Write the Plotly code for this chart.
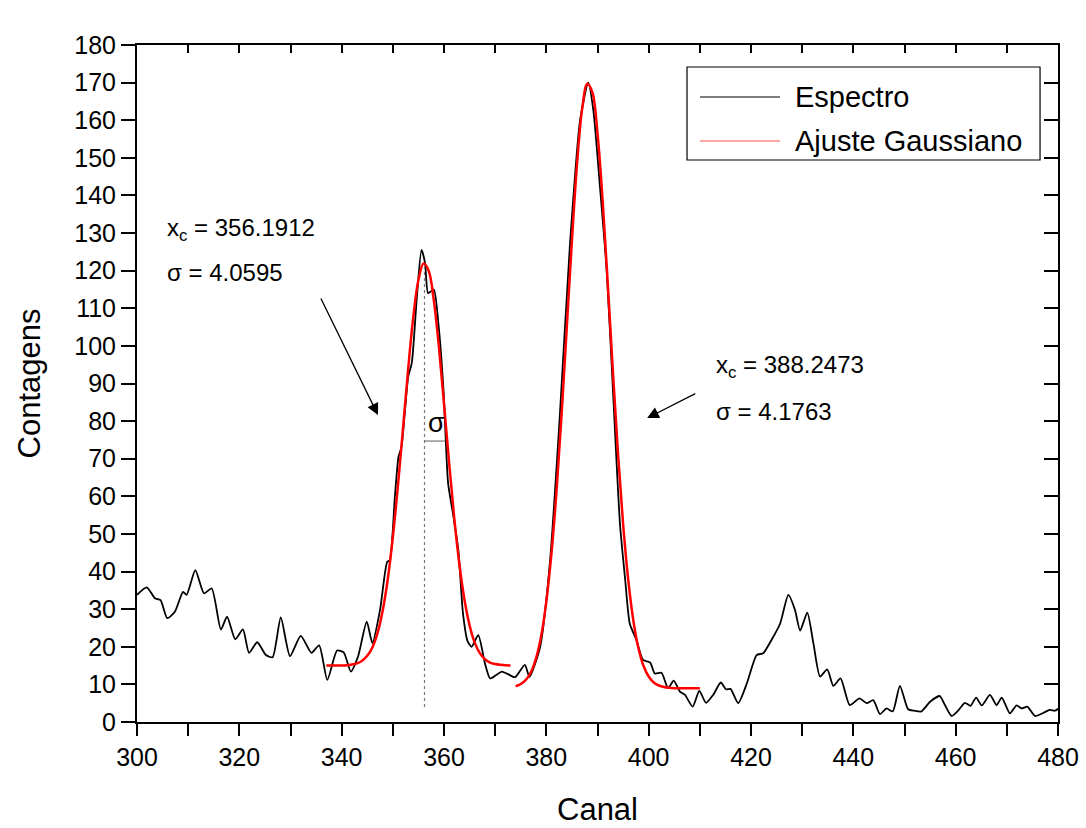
import plotly.graph_objects as go

# ---- Spectrum (black) ----
spec_x = [300.0, 301.9, 303.5, 304.6, 305.9, 307.4, 309.0, 309.7, 311.4, 313.1, 314.6, 316.4,
          317.6, 319.2, 320.7, 321.9, 323.5, 325.2, 326.5, 328.1, 329.9, 332.0, 334.1, 335.6,
          337.2, 339.1, 340.4, 341.8, 343.2, 344.9, 346.0, 347.5, 348.9, 349.4, 350.4, 351.1,
          351.7, 353.0, 353.7, 354.7, 355.6, 356.3, 356.9, 358.0, 358.9, 359.9, 360.8, 361.8,
          362.8, 363.7, 364.6, 365.4, 366.7, 368.0, 369.0, 370.2, 371.3, 372.4, 373.9, 375.8,
          376.7, 378.8, 380.7, 382.6, 384.6, 386.6, 388.2, 389.2, 390.5, 391.8, 393.1, 394.4,
          395.4, 396.3, 397.6, 398.9, 400.3, 401.2, 402.5, 403.8, 404.9, 406.1, 407.1, 408.6,
          409.9, 411.2, 412.6, 414.1, 415.1, 416.0, 417.5, 419.2, 421.1, 422.4, 424.0, 425.7,
          427.3, 428.6, 429.6, 431.0, 432.2, 433.5, 434.9, 436.1, 437.5, 439.3, 441.2, 442.6,
          443.9, 445.2, 446.5, 447.7, 449.1, 450.7, 451.9, 453.3, 455.0, 456.9, 457.9, 459.2,
          460.6, 461.8, 462.9, 464.0, 465.1, 466.7, 468.0, 469.0, 470.6, 471.9, 472.9, 474.0,
          475.5, 477.1, 478.4, 479.4, 480.0]
spec_y = [33.8, 35.8, 32.9, 32.4, 27.6, 29.3, 34.6, 33.8, 40.4, 34.2, 35.5, 24.6,
          28.0, 22.0, 24.6, 18.4, 21.2, 17.8, 17.2, 27.8, 17.5, 22.9, 18.4, 20.4,
          11.2, 19.0, 18.5, 13.4, 17.4, 26.7, 21.0, 29.8, 42.6, 43.0, 59.9, 70.5,
          73.2, 91.8, 95.4, 113.0, 125.5, 122.0, 114.0, 115.0, 106.0, 88.3, 63.5, 55.0,
          45.7, 29.0, 21.5, 20.0, 23.1, 15.6, 11.6, 12.5, 13.4, 12.8, 11.9, 15.2,
          12.0, 20.0, 42.4, 80.6, 126.6, 160.0, 170.0, 162.5, 142.0, 120.0, 86.0, 52.5,
          38.0, 26.2, 21.8, 16.5, 15.8, 12.9, 13.1, 9.0, 11.0, 8.1, 7.2, 4.1,
          8.3, 5.1, 7.2, 10.5, 8.7, 8.8, 5.0, 10.3, 17.8, 18.3, 21.8, 26.2,
          33.8, 29.8, 24.3, 29.1, 20.9, 12.1, 14.0, 9.6, 11.6, 4.5, 6.3, 5.0,
          5.8, 2.1, 3.6, 2.8, 9.6, 3.4, 3.0, 2.8, 5.4, 6.9, 4.5, 1.6,
          3.2, 5.1, 4.3, 6.5, 4.4, 7.2, 4.5, 6.5, 2.3, 4.4, 3.6, 4.1,
          1.6, 2.4, 3.2, 3.0, 3.5]

# ---- Gaussian fit curves (red) ----
fit1_x = list(range(337, 374))
fit1_y = [15.0, 15.0, 15.0, 15.0, 15.1, 15.3, 15.6, 16.3, 17.6, 19.8, 23.6, 29.5,
          37.9, 49.1, 62.9, 78.3, 93.9, 107.7, 117.5, 121.9, 120.0, 112.2, 99.8, 84.6,
          68.9, 54.3, 42.0, 32.5, 25.7, 21.1, 18.3, 16.7, 15.8, 15.4, 15.2, 15.1, 15.0]
fit2_x = list(range(374, 411))
fit2_y = [9.5, 10.1, 11.2, 13.3, 17.0, 22.9, 32.0, 44.8, 61.6, 82.2, 105.0, 128.0,
          148.3, 163.0, 169.7, 167.4, 156.5, 138.7, 116.7, 93.4, 71.5, 52.7, 37.9, 27.0,
          19.6, 14.9, 12.1, 10.5, 9.7, 9.3, 9.1, 9.0, 9.0, 9.0, 9.0, 9.0, 9.0]

# fit parameters (labels)
xc1, sigma1 = 356.1912, 4.0595
xc2, sigma2 = 388.2473, 4.1763
sigma_mark_y = 74.7
dotted_y = [4, 122]

legend_names = ["Espectro", "Ajuste Gaussiano"]
legend_colors = ["black", "#ff5050"]

FONT = "Arial, Liberation Sans, sans-serif"

fig = go.Figure()
fig.add_trace(go.Scatter(x=spec_x, y=spec_y, mode="lines", name="Espectro",
                         line=dict(color="black", width=1.8, shape="spline", smoothing=0.6),
                         showlegend=False))
fig.add_trace(go.Scatter(x=fit1_x, y=fit1_y, mode="lines", name="Ajuste Gaussiano",
                         line=dict(color="#ff0000", width=2.5, shape="spline"),
                         showlegend=False))
fig.add_trace(go.Scatter(x=fit2_x, y=fit2_y, mode="lines", name="Ajuste Gaussiano",
                         line=dict(color="#ff0000", width=2.5, shape="spline"),
                         showlegend=False))
# dotted centre line and sigma marker
fig.add_trace(go.Scatter(x=[xc1, xc1], y=dotted_y, mode="lines",
                         line=dict(color="#777777", width=1.2, dash="dot"), showlegend=False))
fig.add_trace(go.Scatter(x=[xc1, xc1 + sigma1], y=[sigma_mark_y, sigma_mark_y], mode="lines",
                         line=dict(color="#777777", width=1.2), showlegend=False))

# invisible trace for mirrored axes
fig.add_trace(go.Scatter(x=[300, 480], y=[0, 180], mode="markers", marker=dict(opacity=0),
                         xaxis="x2", yaxis="y2", showlegend=False, hoverinfo="skip"))

fig.update_layout(
    width=1086, height=828,
    margin=dict(l=137, r=28, t=45, b=106, autoexpand=False),
    paper_bgcolor="white", plot_bgcolor="white",
    font=dict(family=FONT, color="black", size=25),
    showlegend=False,
    xaxis=dict(range=[300, 480], dtick=20, tick0=300, ticks="outside", ticklen=12,
               tickwidth=2, tickcolor="black", showline=True, linecolor="black", linewidth=2,
               showgrid=False, zeroline=False, tickfont=dict(size=25), automargin=False,
               minor=dict(dtick=10, ticks="outside", ticklen=12, tickwidth=2, tickcolor="black"),
               title=dict(text="Canal", font=dict(size=31), standoff=28)),
    yaxis=dict(range=[0, 180], dtick=10, ticks="outside", ticklen=14, tickwidth=2,
               tickcolor="black", showline=True, linecolor="black", linewidth=2,
               showgrid=False, zeroline=False, tickfont=dict(size=25), automargin=False,
               title=dict(text="Contagens", font=dict(size=31), standoff=24)),
    xaxis2=dict(range=[300, 480], overlaying="x", side="top", dtick=10, ticks="inside",
                ticklen=8, tickwidth=2, tickcolor="black", showticklabels=False, automargin=False,
                showline=True, linecolor="black", linewidth=2, showgrid=False, zeroline=False),
    yaxis2=dict(range=[0, 180], overlaying="y", side="right", dtick=10, ticks="inside",
                ticklen=14, tickwidth=2, tickcolor="black", showticklabels=False, automargin=False,
                showline=True, linecolor="black", linewidth=2, showgrid=False, zeroline=False),
)

# ---- legend box (drawn to match the original's long line samples) ----
fig.add_shape(type="rect", xref="paper", yref="paper", x0=0.5972, x1=0.9805, y0=0.8301, y1=0.9675,
              line=dict(color="black", width=1.2), fillcolor="white", layer="above")
leg_y = [0.9232, 0.8582]
for name, col, yy in zip(legend_names, legend_colors, leg_y):
    fig.add_shape(type="line", xref="paper", yref="paper", x0=0.6113, x1=0.6982, y0=yy, y1=yy,
                  line=dict(color=col, width=1.2), layer="above")
    fig.add_annotation(x=0.7123, y=yy, xref="paper", yref="paper", text=name, showarrow=False,
                       xanchor="left", yanchor="middle", font=dict(family=FONT, size=29, color="black"))

ann_font = dict(family=FONT, size=24, color="black")
fig.add_annotation(x=305.5, y=131, xref="x", yref="y", text=f"x<sub>c</sub> = {xc1:.4f}",
                   showarrow=False, xanchor="left", font=ann_font)
fig.add_annotation(x=305.5, y=119.4, xref="x", yref="y", text=f"σ = {sigma1:.4f}",
                   showarrow=False, xanchor="left", font=ann_font)
fig.add_annotation(x=412.8, y=94.5, xref="x", yref="y", text=f"x<sub>c</sub> = {xc2:.4f}",
                   showarrow=False, xanchor="left", font=ann_font)
fig.add_annotation(x=412.8, y=82.5, xref="x", yref="y", text=f"σ = {sigma2:.4f}",
                   showarrow=False, xanchor="left", font=ann_font)
fig.add_annotation(x=358.5, y=79.5, xref="x", yref="y", text="σ",
                   showarrow=False, font=dict(family=FONT, size=27, color="black"))
# arrows
fig.add_annotation(x=347.1, y=81.6, ax=335.8, ay=113.0, xref="x", yref="y", axref="x", ayref="y",
                   text="", showarrow=True, arrowhead=2, arrowsize=1.8, arrowwidth=1.3,
                   arrowcolor="black")
fig.add_annotation(x=399.7, y=80.8, ax=409.4, ay=87.5, xref="x", yref="y", axref="x", ayref="y",
                   text="", showarrow=True, arrowhead=2, arrowsize=1.8, arrowwidth=1.3,
                   arrowcolor="black")

fig.write_html("out.html")
